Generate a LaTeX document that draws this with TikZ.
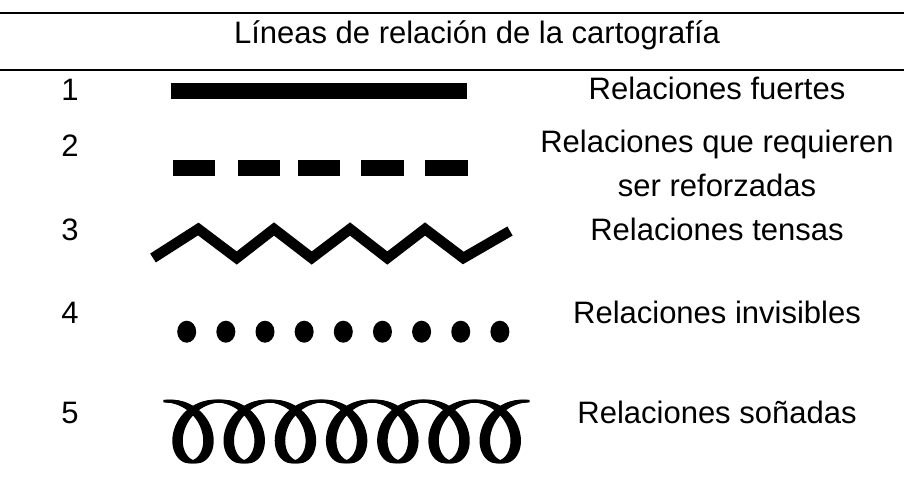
\documentclass[tikz,border=0pt]{standalone}
\usepackage{fontspec}
\setmainfont{Liberation Sans}
\begin{document}
\begin{tikzpicture}[x=1pt,y=-1pt,
  txt/.style={font=\fontsize{31}{44}\selectfont,inner sep=0pt,anchor=base},
  rule/.style={line width=2pt}]
\useasboundingbox (0,0) rectangle (904,483);
% header
\draw[rule] (0,12.5) -- (904,12.5) (0,69.5) -- (904,69.5);
\node[txt] (title) at (477,43.5) {Líneas de relación de la cartografía};
% numbers
\foreach \n/\y in {1/100,2/156,3/240,4/323,5/423}
  \node[txt] (num\n) at (70,\y) {\n};
% labels (base = last line)
\node[txt] (lbl1) at (717,99) {Relaciones fuertes};
\node[txt,align=center] (lbl2) at (717,196) {Relaciones que requieren\\ser reforzadas};
\node[txt] (lbl3) at (717,240) {Relaciones tensas};
\node[txt] (lbl4) at (717,323) {Relaciones invisibles};
\node[txt] (lbl5) at (717,423) {Relaciones soñadas};
% strong
\fill (170.5,83) rectangle (466.5,99);
% dashed
\foreach \x in {172.7,237.7,297.7,361,425}
  \fill (\x,160) rectangle ++(42.5,15.7);
% tense
\draw[line width=10.5pt] (153,258) -- (198.3,229) -- (236.7,258) -- (274,229)
  -- (311.7,258) -- (350,229) -- (387.3,258) -- (425,229) -- (463.3,258) -- (510,231);
% invisible
\foreach \i in {0,...,8}
  \fill (186.7+39.15*\i,331.7) ellipse [x radius=9.5pt,y radius=11pt];
% dreamed
\foreach \s in {-4,-3,...,4}
  \draw[line width=2.5pt,xshift=\s pt] plot[domain=0:43.98,samples=700,smooth]
    ({167.4+8.15*\x+27*sin(\x r)},{431.5-30.5*cos(\x r)});
\end{tikzpicture}
\end{document}
